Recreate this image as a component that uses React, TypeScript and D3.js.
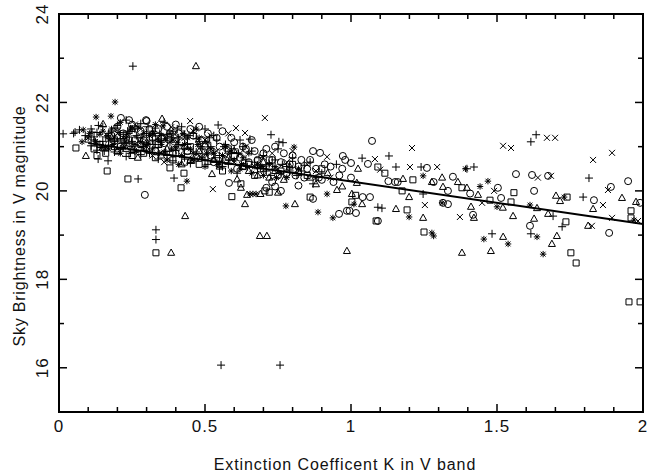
import React from "react";
import * as d3 from "d3";

type P = [number, number];

const xTicksMajor = [0, 0.5, 1, 1.5, 2];
const xTickLabels = ["0", "0.5", "1", "1.5", "2"];
const yTicksMajor = [16, 18, 20, 22, 24];
const yTickLabels = ["16", "18", "20", "22", "24"];

const fitLine: P[] = [[0.1, 21.08], [2.0, 19.25]];

const plusPts: P[] = [
  [0.05,21.3],[0.07,21.38],[0.09,21.25],[0.11,21.4],[0.12,21.15],[0.13,21.32],[0.14,21.05],[0.15,21.45],[0.16,21.22],[0.17,21.0],[0.18,21.35],[0.19,21.12],[0.2,21.48],[0.21,20.95],[0.22,21.28],[0.23,21.6],[0.24,21.08],[0.25,21.38],[0.26,20.9],[0.27,21.2],[0.28,21.52],[0.29,21.0],[0.3,21.3],[0.31,20.85],[0.32,21.15],[0.33,21.42],[0.34,20.98],[0.35,21.25],[0.36,21.55],[0.37,20.8],[0.38,21.1],[0.39,21.35],[0.4,20.92],[0.41,21.2],[0.42,21.45],[0.43,20.75],[0.44,21.05],[0.46,21.3],[0.47,20.88],[0.48,21.12],[0.5,20.7],[0.52,21.0],[0.53,21.25],[0.55,20.8],[0.57,21.05],[0.58,20.6],[0.6,20.95],[0.62,21.15],[0.64,20.7],[0.66,20.9],[0.68,20.5],[0.7,20.8],[0.72,20.62],[0.75,20.95],[0.78,20.55],[0.8,20.75],[0.83,20.45],[0.86,20.65],[0.9,20.4],[0.95,20.6],
  [0.12,21.22],[0.13,20.92],[0.15,21.12],[0.17,21.3],[0.19,20.88],[0.21,21.18],[0.23,20.78],[0.25,21.12],[0.26,21.4],[0.28,20.82],[0.3,21.05],[0.32,21.35],[0.34,20.72],[0.35,21.1],[0.37,21.28],[0.39,20.68],[0.41,21.05],[0.43,21.28],[0.45,20.62],[0.47,21.18],[0.49,20.95],[0.51,20.6],[0.54,21.15],[0.56,20.55],[0.59,20.85],[0.61,20.4],[0.63,21.0],[0.67,20.65],[0.71,20.45],[0.74,20.7],[0.79,20.45],[0.84,20.58],
  [0.11,21.02],[0.135,21.48],[0.155,20.9],[0.175,21.18],[0.195,21.42],[0.215,21.08],[0.235,21.35],[0.245,20.85],[0.265,21.25],[0.285,21.0],[0.305,21.45],[0.325,21.05],[0.345,21.3],[0.365,20.9],[0.385,21.2],[0.405,21.4],[0.425,20.95],[0.445,21.25],[0.465,20.7],[0.485,21.0],[0.515,21.2],[0.535,20.75],[0.565,21.0],[0.585,20.7],[0.615,20.85],[0.645,20.55],[0.685,20.75],[0.725,20.35],[0.765,20.6],[0.815,20.35],
  [0.014,21.29],[0.055,21.33],[0.113,21.33],[0.134,20.72],[0.168,20.68],[0.271,20.27],[0.253,22.82],[0.332,19.12],[0.332,18.9],[0.555,16.06],[0.757,16.06],[0.545,21.49],[0.5,21.4],[0.654,21.17],[0.726,21.27],[0.753,21.11],[0.767,21.09],[0.394,20.29],[0.87,20.16],
  [1.13,20.79],[1.038,20.74],[1.154,20.54],[1.24,20.54],[1.247,19.93],[1.092,19.63],[1.106,19.61],[1.634,21.27],[1.616,21.11],[1.397,20.5],[1.421,20.54],[1.483,19.03],[1.616,19.03],[1.815,20.29],[1.795,19.86],[1.692,19.43],[1.723,19.19]
];

const starPts: P[] = [
  [0.083,21.38],[0.079,21.11],[0.127,21.67],[0.178,21.69],[0.192,22.01],[0.1,21.2],[0.14,21.28],[0.16,21.0],[0.18,21.4],[0.2,21.15],[0.21,21.55],[0.22,20.98],[0.24,21.3],[0.25,21.0],[0.27,21.45],[0.28,21.1],[0.3,20.9],[0.31,21.25],[0.33,21.5],[0.35,21.05],[0.36,20.88],[0.38,21.3],[0.4,21.0],[0.42,20.8],[0.44,21.2],[0.45,20.95],[0.47,21.4],[0.49,20.75],[0.51,21.1],[0.53,20.85],[0.55,20.65],[0.57,21.0],[0.6,20.7],[0.62,20.5],[0.65,20.85],[0.68,20.6],[0.7,20.35],[0.74,20.55],[0.78,20.3],[0.805,20.99],[0.356,21.47],
  [0.13,21.05],[0.15,21.35],[0.17,20.95],[0.19,21.22],[0.21,20.85],[0.23,21.2],[0.26,21.05],[0.29,21.3],[0.32,20.95],[0.34,21.15],[0.37,20.7],[0.39,21.15],[0.41,20.6],[0.43,21.05],[0.46,20.85],[0.48,21.2],[0.5,20.55],[0.52,20.95],[0.56,20.8],[0.59,20.45],[0.63,20.75],[0.66,20.4],[0.72,20.6],[0.76,20.4],[0.82,20.5],[0.88,20.3],
  [0.105,21.3],[0.125,21.12],[0.145,20.98],[0.165,21.25],[0.185,21.05],[0.205,21.32],[0.225,21.1],[0.245,21.42],[0.265,20.9],[0.285,21.2],[0.305,21.08],[0.325,21.3],[0.345,20.85],[0.365,21.18],[0.385,20.95],[0.405,21.1],[0.425,21.3],[0.455,20.7],[0.475,21.05],[0.505,20.85],[0.545,20.6],[0.585,20.9],[0.625,20.6],[0.695,20.55],[0.745,20.3],
  [0.438,20.22],[0.654,19.93],[0.664,19.93],[0.675,19.93],[0.777,19.66],[0.887,19.52],[0.938,19.39],[0.918,19.93],[1.01,19.7],[1.247,20.34],[1.199,19.41],[1.277,19.05],[1.283,18.98],[1.312,19.73],[1.392,20.5],[1.469,20.22],[1.455,18.91],[1.538,18.8],[1.613,19.68],[1.637,18.96],[1.658,18.57],[1.73,19.86],[1.969,19.34],[1.5,19.64],[1.442,20.1]
];

const circlePts: P[] = [
  [0.2,21.45],[0.212,21.65],[0.298,21.6],[0.22,21.3],[0.24,21.6],[0.26,21.15],[0.28,21.35],[0.3,21.58],[0.32,21.2],[0.34,21.4],[0.36,21.08],[0.38,21.3],[0.4,21.5],[0.42,21.1],[0.44,20.9],[0.46,21.25],[0.48,21.45],[0.5,21.0],[0.52,20.8],[0.54,21.2],[0.56,21.35],[0.58,20.9],[0.6,21.1],[0.62,20.75],[0.64,20.95],[0.66,21.15],[0.68,20.7],[0.7,20.85],[0.72,20.55],[0.74,21.0],[0.76,20.65],[0.78,20.4],[0.8,20.8],[0.82,20.55],[0.84,20.3],[0.86,20.7],[0.88,20.5],[0.9,20.25],[0.93,20.55],[0.96,20.35],[0.98,20.7],
  [0.18,21.25],[0.21,21.0],[0.23,21.2],[0.25,21.5],[0.27,20.95],[0.29,21.15],[0.31,21.4],[0.33,20.9],[0.35,21.2],[0.37,21.45],[0.39,20.85],[0.41,21.3],[0.43,21.0],[0.45,21.4],[0.47,20.75],[0.49,21.15],[0.51,21.3],[0.53,20.65],[0.55,21.0],[0.57,20.7],[0.59,21.2],[0.61,20.5],[0.63,21.0],[0.65,20.65],[0.67,20.9],[0.69,20.5],[0.71,20.95],[0.73,20.7],[0.75,20.35],[0.77,20.85],[0.79,20.6],[0.81,20.35],[0.83,20.7],[0.85,20.5],[0.87,20.9],[0.89,20.3],[0.91,20.6],[0.94,20.2],[0.97,20.5],[1.0,20.3],
  [0.294,19.91],[0.582,20.18],[0.71,20.07],[0.73,20.2],[0.74,20.1],[0.76,20.0],[0.82,20.12],[0.87,19.82],[0.894,20.86],[0.972,20.79],[0.959,19.48],[0.986,19.55],[0.995,19.55],[1.017,19.5],[1.0,20.63],[1.058,20.61],[1.072,21.13],[1.26,20.52],[1.151,20.2],[1.128,20.22],[1.16,20.2],[1.283,20.2],[1.04,19.86],[1.065,19.86],[1.092,19.32],[1.349,20.32],[1.565,20.38],[1.62,20.36],[1.503,20.07],[1.627,20.0],[1.332,20.0],[1.408,19.94],[1.514,19.84],[1.315,19.73],[1.332,19.7],[1.418,19.46],[1.613,19.21],[1.675,20.34],[1.949,20.22],[1.89,20.09],[1.832,19.79],[1.99,19.73],[1.884,19.05]
];

const squarePts: P[] = [
  [0.1,21.17],[0.058,20.97],[0.165,20.45],[0.236,20.27],[0.12,20.95],[0.14,21.05],[0.16,20.85],[0.18,21.1],[0.2,20.9],[0.22,21.25],[0.25,20.8],[0.28,21.05],[0.3,20.95],[0.33,20.75],[0.36,21.2],[0.4,20.85],[0.43,20.65],[0.45,21.0],[0.48,20.6],[0.52,20.9],[0.56,20.45],[0.6,20.8],[0.63,20.55],[0.67,20.35],[0.72,20.7],[0.76,20.45],[0.8,20.6],[0.85,20.35],[0.9,20.5],
  [0.13,20.8],[0.19,21.0],[0.24,21.15],[0.29,20.85],[0.34,21.05],[0.39,20.7],[0.44,20.9],[0.5,20.75],[0.55,20.6],[0.58,20.95],[0.65,20.6],[0.7,20.5],
  [0.38,20.52],[0.418,20.07],[0.428,20.4],[0.592,19.87],[0.623,20.16],[0.332,18.6],[0.86,19.86],[0.72,19.97],[0.705,20.0],[1.003,19.75],[1.016,19.9],[1.092,20.54],[1.116,20.4],[1.212,20.25],[1.175,20.0],[1.192,19.57],[1.086,19.32],[1.25,19.07],[1.38,20.07],[1.558,19.96],[1.476,19.79],[1.548,19.75],[1.74,19.86],[1.959,19.55],[1.959,19.39],[1.736,19.3],[1.753,18.6],[1.771,18.37],[1.952,17.49],[1.99,17.49]
];

const trianglePts: P[] = [
  [0.469,22.82],[0.151,21.51],[0.092,20.79],[0.353,21.63],[0.384,18.6],[0.432,19.43],[0.688,18.98],[0.712,18.98],[0.986,18.64],[0.524,20.38],[0.623,20.07],[0.637,19.7],[0.644,19.91],[0.61,20.26],[0.69,19.93],[0.75,19.96],[0.808,19.7],[0.952,20.02],[0.72,20.3],
  [0.2,20.9],[0.25,21.4],[0.3,21.1],[0.35,20.8],[0.4,21.25],[0.45,20.7],[0.5,21.05],[0.55,20.55],[0.6,20.9],[0.65,20.45],[0.7,20.65],[0.77,20.25],[0.82,20.45],[0.88,20.15],[0.92,20.4],[0.97,20.1],[0.27,20.75],[0.15,20.98],
  [0.18,21.2],[0.23,20.95],[0.32,21.3],[0.37,20.95],[0.42,20.6],[0.48,20.9],[0.53,20.7],[0.58,20.75],[0.63,20.55],[0.68,20.35],[0.74,20.45],[0.79,20.55],[0.86,20.3],
  [1.024,20.5],[1.312,20.3],[1.178,20.27],[1.277,20.2],[1.315,20.09],[1.02,20.18],[1.003,19.93],[1.199,19.86],[1.038,19.7],[1.154,19.59],[1.247,19.39],[1.366,20.2],[1.397,20.07],[1.411,19.64],[1.435,19.91],[1.421,19.39],[1.52,19.62],[1.555,19.43],[1.637,19.61],[1.627,19.37],[1.521,18.96],[1.479,18.64],[1.38,18.6],[1.702,19.89],[1.716,19.77],[1.675,19.48],[1.812,19.21],[1.705,18.98],[1.688,18.8],[1.829,19.59],[1.928,19.84],[1.976,19.75]
];

const crossPts: P[] = [
  [0.449,21.58],[0.384,21.44],[0.606,21.42],[0.637,21.31],[0.705,21.65],[0.527,20.04],[0.918,20.77],[1.209,20.97],[1.082,20.72],[1.202,20.54],[1.295,20.54],[1.1,20.48],[1.253,19.68],[1.521,21.02],[1.548,20.97],[1.49,20.0],[1.449,19.73],[1.373,19.41],[1.671,21.2],[1.699,21.2],[1.894,20.86],[1.829,20.7],[1.685,20.34],[1.64,20.3],[1.88,20.02],[1.863,19.68],[1.894,19.39],[1.983,19.32],[1.825,19.21],
  [0.2,21.3],[0.26,21.5],[0.3,21.0],[0.34,21.2],[0.4,20.95],[0.46,21.35],[0.5,21.15],[0.54,20.9],[0.58,21.3],[0.64,21.0],[0.7,20.75],[0.75,20.5],[0.8,20.9],[0.85,20.6],[0.93,20.3],[0.6,20.65],[0.36,20.65],
  [0.17,21.15],[0.23,21.05],[0.28,21.4],[0.32,20.8],[0.38,21.1],[0.43,21.2],[0.48,20.8],[0.52,21.25],[0.56,20.7],[0.62,20.85],[0.67,20.55],[0.73,20.85],[0.78,20.65],[0.88,20.45]
];

const W = 647, H = 476;
const x = d3.scaleLinear().domain([0, 2]).range([59, 643]);
const y = d3.scaleLinear().domain([15, 24]).range([412, 14]);

const shapes: Record<string, string> = {
  plus: "M-4,0H4M0,-4V4",
  cross: "M-3,-3L3,3M-3,3L3,-3",
  star: "M-3.2,0H3.2M0,-3.2V3.2M-2.4,-2.4L2.4,2.4M-2.4,2.4L2.4,-2.4",
  square: "M-3,-3H3V3H-3Z",
  triangle: "M0,-3.8L3.5,2.5H-3.5Z",
};

const font = "'Liberation Sans', Arial, sans-serif";

export default function App() {
  const xMinor = d3.range(0, 2.0001, 0.1).map((v) => +v.toFixed(2)).filter((v) => !xTicksMajor.some((m) => Math.abs(m - v) < 1e-6));
  const yMinor = d3.range(15, 24.001, 1).filter((v) => !yTicksMajor.includes(v));
  const [x0, x1] = x.range();
  const [y0, y1] = y.range();
  const line = d3.line<P>().x((d) => x(d[0])).y((d) => y(d[1]));
  const groups: [string, P[]][] = [
    ["plus", plusPts], ["star", starPts], ["cross", crossPts], ["square", squarePts], ["triangle", trianglePts],
  ];
  return (
    <svg width={W} height={H} style={{ position: "absolute", left: 0, top: 0, background: "#fff" }}>
      <rect x={0} y={0} width={W} height={H} fill="#fff" />
      <g fill="none" stroke="#000" strokeWidth={1}>
        {groups.map(([k, pts]) =>
          pts.map((d, i) => (
            <path key={k + i} d={shapes[k]} transform={`translate(${x(d[0])},${y(d[1])})`} />
          ))
        )}
        {circlePts.map((d, i) => (
          <circle key={"c" + i} cx={x(d[0])} cy={y(d[1])} r={3.5} />
        ))}
        <path d={line(fitLine) || ""} strokeWidth={2} />
      </g>
      <g stroke="#000" fill="none">
        <rect x={x0} y={y1} width={x1 - x0} height={y0 - y1} strokeWidth={2} />
        {xTicksMajor.map((v) => (
          <g key={"xm" + v}>
            <line x1={x(v)} x2={x(v)} y1={y0} y2={y0 - 8} strokeWidth={1.5} />
            <line x1={x(v)} x2={x(v)} y1={y1} y2={y1 + 8} strokeWidth={1.5} />
          </g>
        ))}
        {xMinor.map((v) => (
          <g key={"xn" + v}>
            <line x1={x(v)} x2={x(v)} y1={y0} y2={y0 - 5} strokeWidth={1.5} />
            <line x1={x(v)} x2={x(v)} y1={y1} y2={y1 + 5} strokeWidth={1.5} />
          </g>
        ))}
        {yTicksMajor.map((v) => (
          <g key={"ym" + v}>
            <line x1={x0} x2={x0 + 8} y1={y(v)} y2={y(v)} strokeWidth={1.5} />
            <line x1={x1} x2={x1 - 8} y1={y(v)} y2={y(v)} strokeWidth={1.5} />
          </g>
        ))}
        {yMinor.map((v) => (
          <g key={"yn" + v}>
            <line x1={x0} x2={x0 + 5} y1={y(v)} y2={y(v)} strokeWidth={1.5} />
            <line x1={x1} x2={x1 - 5} y1={y(v)} y2={y(v)} strokeWidth={1.5} />
          </g>
        ))}
      </g>
      <g fontFamily={font} fontSize={17} fill="#111">
        {xTicksMajor.map((v, i) => (
          <text key={"xl" + v} x={x(v)} y={432} textAnchor="middle" letterSpacing={1}>{xTickLabels[i]}</text>
        ))}
        {yTicksMajor.map((v, i) => (
          <text key={"yl" + v} transform={`translate(48,${y(v)}) rotate(-90)`} textAnchor="middle" letterSpacing={1}>{yTickLabels[i]}</text>
        ))}
        <text x={345} y={470} textAnchor="middle" fontSize={16} letterSpacing={0.9}>Extinction Coefficent K in V band</text>
        <text transform={`translate(25,226) rotate(-90)`} textAnchor="middle" fontSize={16} letterSpacing={0.8}>Sky Brightness in V magnitude</text>
      </g>
    </svg>
  );
}
